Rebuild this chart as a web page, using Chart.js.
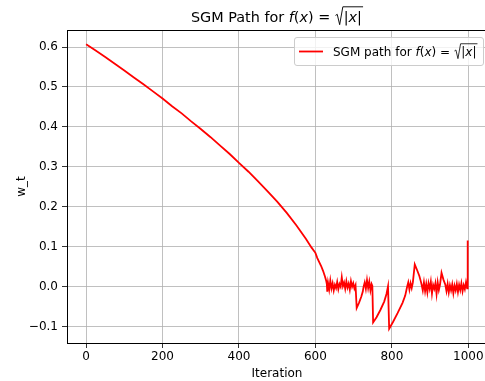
<!DOCTYPE html>
<html>
<head>
<meta charset="utf-8">
<script src="https://cdn.jsdelivr.net/npm/chart.js@4/dist/chart.umd.min.js"></script>
<style>
  html, body { margin: 0; padding: 0; background: #fff; overflow: hidden; }
  #wrap { width: 488px; height: 381px; }
</style>
</head>
<body>
<div id="wrap"><canvas id="c" width="488" height="381"></canvas></div>
<script>
/* ── Data ─────────────────────────────────────────────────────── */
const iterations = [
  0, 25, 50, 75, 100, 125, 150, 175, 200, 225, 250, 275, 300, 325, 350, 375, 400, 425, 450, 475,
  500, 525, 550, 575, 590, 600, 605, 610, 615, 620, 625, 628, 630, 631,
  633, 636, 639, 642, 645, 648, 651, 654, 657, 660, 663, 666, 669, 672, 675, 678, 681, 684, 687, 690, 693, 696, 699, 702, 705,
  708, 714, 720, 724, 726, 729, 732, 735, 738, 741, 744, 747, 749,
  751, 760, 770, 780, 786, 790,
  793, 803, 815, 828, 835, 840,
  843, 846, 849, 852, 855, 860, 866, 872, 876, 878,
  881, 884, 887, 890, 893, 896, 899, 902, 905, 908, 911, 914, 917, 920, 923, 926,
  930, 935, 940, 943, 946, 949, 952, 955, 958, 961, 964, 967, 970, 973, 976, 979, 982, 985, 988, 991, 994, 997, 998, 999
];
const wValues = [
  0.607, 0.591, 0.575, 0.558, 0.541, 0.524, 0.507, 0.489, 0.471, 0.452, 0.434, 0.414, 0.395, 0.375, 0.354, 0.333, 0.310, 0.288, 0.264, 0.239,
  0.213, 0.185, 0.154, 0.120, 0.098, 0.085, 0.072, 0.062, 0.052, 0.040, 0.026, 0.016, 0.006, -0.012,
  0.010, -0.007, 0.016, -0.004, 0.009, -0.009, 0.005, -0.003, 0.012, -0.006, 0.007, 0.000, 0.024, 0.002, 0.011, -0.005, 0.014, -0.002, 0.008, -0.007, 0.014, 0.000, 0.009, -0.004, 0.004,
  -0.053, -0.040, -0.025, -0.012, 0.000, 0.011, -0.005, 0.017, -0.003, 0.013, -0.009, 0.007, 0.002,
  -0.089, -0.076, -0.058, -0.037, -0.018, 0.001,
  -0.105, -0.088, -0.066, -0.040, -0.022, 0.000,
  0.011, -0.007, 0.009, -0.003, 0.011, 0.056, 0.042, 0.027, 0.013, 0.005,
  -0.009, 0.011, -0.011, 0.007, -0.014, 0.009, -0.005, 0.013, -0.017, 0.005, -0.005, 0.009, -0.018, 0.011, -0.008, 0.005,
  0.035, 0.018, 0.005, -0.011, 0.007, -0.014, 0.004, -0.009, 0.006, -0.016, 0.003, -0.009, 0.007, -0.013, 0.005, -0.008, 0.009, -0.011, 0.004, -0.006, 0.011, -0.004, 0.006, 0.116
];
const xTicks = [0, 200, 400, 600, 800, 1000];
const yTicks = [-0.1, 0.0, 0.1, 0.2, 0.3, 0.4, 0.5, 0.6];

const FONT = "'DejaVu Sans', sans-serif";

/* ── Rich text helper (plain + italic + radical) ──────────────── */
function segFont(p, size) {
  return `${p.it ? 'oblique ' : ''}${size}px ${FONT}`;
}

function partsWidth(ctx, parts, size) {
  let w = 0;
  parts.forEach(p => { ctx.font = segFont(p, size); w += ctx.measureText(p.t).width; });
  return w;
}

function richWidth(ctx, segs, size) {
  let w = 0;
  segs.forEach(s => {
    if (s.sqrt) w += size * 0.62 + partsWidth(ctx, s.sqrt, size) + size * 0.08;
    else w += partsWidth(ctx, [s], size);
  });
  return w;
}

function drawRich(ctx, segs, x, y, size, align) {
  ctx.save();
  ctx.fillStyle = '#000';
  ctx.strokeStyle = '#000';
  ctx.textBaseline = 'alphabetic';
  ctx.textAlign = 'left';
  let cx = align === 'center' ? x - richWidth(ctx, segs, size) / 2 : x;
  segs.forEach(s => {
    if (s.sqrt) {
      const x0 = cx;
      const top = y - size * 1.02;
      const inner = partsWidth(ctx, s.sqrt, size);
      ctx.lineWidth = Math.max(0.8, size * 0.065);
      ctx.beginPath();
      ctx.moveTo(x0 + size * 0.05, y - size * 0.42);
      ctx.lineTo(x0 + size * 0.17, y - size * 0.5);
      ctx.lineTo(x0 + size * 0.34, y + size * 0.22);
      ctx.lineTo(x0 + size * 0.56, top);
      ctx.lineTo(x0 + size * 0.62 + inner + size * 0.08, top);
      ctx.stroke();
      cx = x0 + size * 0.62;
      s.sqrt.forEach(p => {
        ctx.font = segFont(p, size);
        ctx.fillText(p.t, cx, y);
        cx += ctx.measureText(p.t).width;
      });
      cx += size * 0.08;
    } else {
      ctx.font = segFont(s, size);
      ctx.fillText(s.t, cx, y);
      cx += ctx.measureText(s.t).width;
    }
  });
  ctx.restore();
}

function fxSegs(prefix) {
  return [
    { t: prefix }, { t: 'f', it: true }, { t: '(' }, { t: 'x', it: true }, { t: ') = ' },
    { sqrt: [{ t: '|' }, { t: 'x', it: true }, { t: '|' }] },
  ];
}

/* ── Decorations: top spine, title, axis labels, legend ───────── */
const decor = {
  id: 'decor',
  afterDraw(chart) {
    const { ctx, chartArea: a } = chart;
    const midX = (a.left + a.right) / 2;

    // top spine
    ctx.save();
    ctx.strokeStyle = '#000';
    ctx.lineWidth = 1;
    ctx.beginPath();
    ctx.moveTo(a.left, Math.round(a.top) + 0.5);
    ctx.lineTo(a.right, Math.round(a.top) + 0.5);
    ctx.stroke();
    ctx.restore();

    drawRich(ctx, fxSegs('SGM Path for '), midX, 21.5, 14.4, 'center');

    ctx.save();
    ctx.fillStyle = '#000';
    ctx.font = `12px ${FONT}`;
    ctx.textAlign = 'center';
    ctx.textBaseline = 'alphabetic';
    ctx.fillText('Iteration', midX, 377);
    ctx.translate(25, (a.top + a.bottom) / 2);
    ctx.rotate(-Math.PI / 2);
    ctx.fillText('w_t', 0, 0);
    ctx.restore();

    // legend
    const bx = 294, by = 37, bw = 189, bh = 28;
    ctx.save();
    ctx.fillStyle = 'rgba(255,255,255,0.8)';
    ctx.strokeStyle = '#cccccc';
    ctx.lineWidth = 1;
    ctx.beginPath();
    ctx.roundRect(bx + 0.5, by + 0.5, bw, bh, 2.5);
    ctx.fill();
    ctx.stroke();
    ctx.strokeStyle = 'red';
    ctx.lineWidth = 1.8;
    ctx.beginPath();
    ctx.moveTo(299, 51.5);
    ctx.lineTo(323, 51.5);
    ctx.stroke();
    ctx.restore();
    drawRich(ctx, fxSegs('SGM path for '), 333, 56, 12);
  },
};

/* ── Chart ────────────────────────────────────────────────────── */
new Chart(document.getElementById('c'), {
  type: 'line',
  data: {
    datasets: [{
      data: iterations.map((x, i) => ({ x, y: wValues[i] })),
      borderColor: 'red',
      borderWidth: 1.8,
      pointRadius: 0,
      tension: 0,
      fill: false,
    }],
  },
  options: {
    responsive: false,
    animation: false,
    events: [],
    layout: { padding: { top: 30, right: 1, left: 0, bottom: 0 } },
    plugins: { legend: { display: false }, title: { display: false }, tooltip: { enabled: false } },
    scales: {
      x: {
        type: 'linear',
        min: -50,
        max: 1049,
        afterBuildTicks: (s) => { s.ticks = xTicks.map(v => ({ value: v })); },
        afterFit: (s) => { s.height = 38; },
        ticks: {
          color: '#000',
          font: { family: FONT, size: 12 },
          padding: 2,
          maxRotation: 0,
          autoSkip: false,
          callback: (v) => String(v),
        },
        grid: { color: '#b0b0b0', lineWidth: 0.8, tickColor: '#000', tickLength: 5 },
        border: { color: '#000', width: 1 },
      },
      y: {
        min: -0.1406,
        max: 0.6426,
        afterBuildTicks: (s) => { s.ticks = yTicks.map(v => ({ value: v })); },
        afterFit: (s) => { s.width = 67; },
        ticks: {
          color: '#000',
          font: { family: FONT, size: 12 },
          padding: 4,
          autoSkip: false,
          callback: (v) => (v < 0 ? '\u2212' : '') + Math.abs(v).toFixed(1),
        },
        grid: { color: '#b0b0b0', lineWidth: 0.8, tickColor: '#000', tickLength: 5 },
        border: { color: '#000', width: 1 },
      },
    },
  },
  plugins: [decor],
});
</script>
</body>
</html>
